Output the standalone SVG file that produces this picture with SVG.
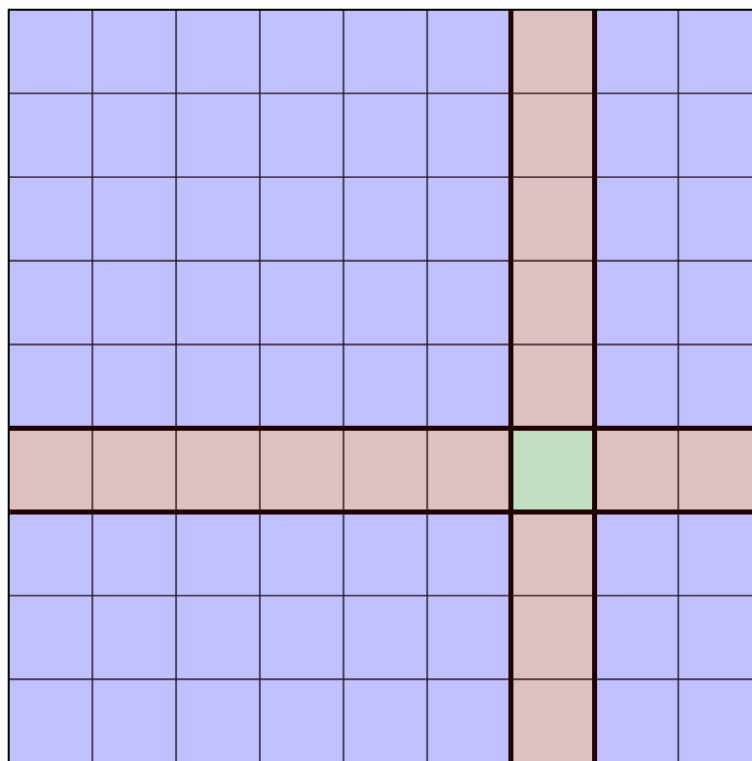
<svg xmlns="http://www.w3.org/2000/svg" width="752" height="761" viewBox="0 0 752 761">
<style>
.b{fill:#c0c0ff}
.p{fill:#dfc0c0}
.g{fill:#c0dfc0}
.thin{stroke:#2a1420;stroke-opacity:0.75;stroke-width:1.9;fill:none}
.thick{stroke:#200000;stroke-width:5;fill:none}
.edge{stroke:#000;stroke-width:2;fill:none}
</style>
<rect width="752" height="761" fill="#fff"/>
<g id="cells">
<rect class="b" x="8.7" y="9.7" width="744" height="752"/>
<rect class="p" x="8.7" y="428.2" width="744" height="83.7"/>
<rect class="p" x="510.9" y="9.7" width="83.7" height="752"/>
<rect class="g" x="510.9" y="428.2" width="83.7" height="83.7"/>
</g>
<g id="grid">
<path class="thin" d="M92.4 9.7V761M176.1 9.7V761M259.8 9.7V761M343.5 9.7V761M427.2 9.7V761M678.3 9.7V761"/>
<path class="thin" d="M8.7 93.4H752M8.7 177.1H752M8.7 260.8H752M8.7 344.5H752M8.7 595.6H752M8.7 679.3H752"/>
<path class="thick" d="M510.9 9.7V761M594.6 9.7V761M8.7 428.2H752M8.7 511.9H752"/>
<path class="edge" d="M8.7 761V9.7H752"/>
</g>
</svg>
